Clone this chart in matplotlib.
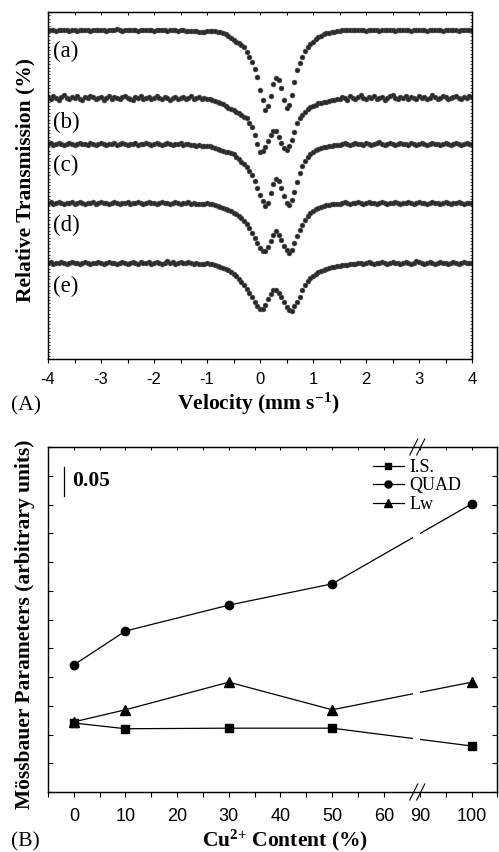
import numpy as np
import matplotlib
matplotlib.use('Agg')
import matplotlib.pyplot as plt
from matplotlib.ticker import MultipleLocator, FixedLocator, NullFormatter, FixedFormatter
from matplotlib.lines import Line2D
from matplotlib.patches import Rectangle
from matplotlib import transforms

plt.rcParams['axes.unicode_minus'] = False
plt.rcParams['font.family'] = ['Liberation Sans', 'DejaVu Sans']
plt.rcParams['mathtext.fontset'] = 'custom'
plt.rcParams['mathtext.rm'] = 'Liberation Serif'
plt.rcParams['mathtext.bf'] = 'Liberation Serif:bold'
plt.rcParams['mathtext.it'] = 'Liberation Serif:italic'

SERIF = ['Liberation Serif', 'DejaVu Serif']

# ---------------- Panel A data (velocity grid -4 .. 4 mm/s, step 0.05) ----------------
velocity_start = -4.0
velocity_step = 0.05

spec_a = [
    329, 329.5, 329, 328.5, 329, 329, 329.5, 329, 328.5, 329,
    329, 328.5, 329, 329.5, 329, 329, 328.5, 329, 329, 329.5,
    329, 329, 328.5, 329, 329, 329.5, 330, 329, 328.5, 329,
    329, 329, 329.5, 329, 328.5, 329, 329, 329.5, 329, 329,
    328.5, 329, 329, 329.5, 329, 328.5, 329, 329, 329, 328.5,
    329, 329, 328.5, 328.5, 328, 328, 328, 327.5, 327.5, 327,
    328.5, 328.5, 328, 328, 327.5, 327, 326, 325, 323, 321,
    319, 317.5, 316, 314, 312, 307, 302, 297, 290, 282,
    269, 259, 249, 253, 263, 275, 281, 279, 271, 259,
    251, 254, 264, 277, 289, 296, 302, 308, 312, 315,
    317.5, 320, 322, 323.5, 325, 326, 326.5, 327, 327.5, 328,
    328.5, 329, 329, 329, 329.5, 329, 329, 329.5, 329, 329,
    328.5, 329, 329, 329.5, 329, 328.5, 329, 329, 329.5, 329,
    329, 328.5, 329, 329, 329.5, 329, 329, 328.5, 329, 329,
    329.5, 329, 329, 328.5, 329, 329, 329.5, 329, 329, 328.5,
    329, 329, 329.5, 329, 329, 328.5, 329, 329, 329.5, 329,
    329,
]

spec_b = [
    262, 260, 263, 261, 259, 262, 264, 261, 260, 262,
    261, 263, 260, 259, 262, 261, 263, 262, 260, 261,
    262, 259, 261, 263, 260, 262, 261, 260, 262, 263,
    261, 260, 259, 262, 261, 263, 260, 261, 262, 260,
    261, 263, 261, 260, 262, 261, 259, 261, 262, 260,
    261, 262, 260, 261, 263, 260, 261, 262, 260, 261,
    260, 260, 259, 258, 257, 256, 255, 253, 251, 250,
    249, 247, 246, 244, 242, 241, 236, 232, 224, 215,
    207, 208, 212, 218, 224, 228, 228, 222, 216, 211,
    209, 213, 219, 227, 236, 241, 244, 247, 250, 252,
    253, 254.5, 256, 256.5, 257, 257.5, 258, 259, 259, 260,
    260, 262, 261, 259, 263, 261, 260, 262, 264, 261,
    260, 262, 261, 263, 260, 261, 262, 259, 261, 263,
    264, 261, 260, 262, 261, 263, 260, 262, 261, 260,
    263, 261, 262, 260, 261, 264, 262, 260, 261, 263,
    262, 260, 261, 262, 263, 261, 260, 262, 261, 263,
    262,
]

spec_c = [
    215, 216, 214, 215, 216, 215, 214, 215, 216, 215,
    214, 215, 216, 215, 215, 214, 216, 215, 214, 215,
    216, 215, 214, 215, 215, 216, 214, 215, 216, 215,
    214, 215, 215, 216, 214, 215, 215, 216, 215, 214,
    215, 216, 215, 214, 215, 216, 215, 214, 215, 215,
    216, 214, 215, 215, 214, 214, 213.5, 214, 213, 213,
    213, 213, 212, 211, 210, 209, 208, 207, 207, 206,
    205, 202, 200, 197, 195, 192, 188, 184, 178, 171,
    164, 158, 153, 156, 166, 175, 180, 178, 171, 163,
    156, 154, 159, 167, 177, 186, 193, 198, 202, 205,
    207, 209, 210, 211, 212, 212.5, 213, 213.5, 214, 214,
    214, 215, 216, 215, 214, 215, 216, 215, 215, 214,
    216, 215, 214, 215, 216, 217, 215, 214, 215, 216,
    215, 214, 215, 216, 215, 215, 214, 216, 215, 214,
    215, 216, 215, 214, 215, 216, 215, 215, 214, 215,
    216, 215, 214, 215, 216, 215, 214, 215, 216, 215,
    215,
]

spec_d = [
    156, 157, 155, 156, 157, 156, 155, 156, 156, 157,
    155, 156, 157, 156, 155, 156, 156, 157, 155, 156,
    157, 156, 156, 155, 156, 157, 156, 155, 156, 156,
    157, 155, 156, 156, 157, 156, 155, 156, 157, 156,
    156, 155, 156, 157, 156, 156, 155, 156, 157, 156,
    155, 156, 156, 157, 155, 156, 155, 155, 155, 155,
    156, 155, 154.5, 154, 153, 152, 151, 150, 149, 148,
    146, 145, 143, 141, 138, 135, 131, 126, 121, 116,
    111, 108, 108, 112, 118, 124, 128, 124, 119, 113,
    109, 106, 109, 116, 123, 129, 134, 139, 143, 146,
    148, 150, 151, 152, 153, 153.5, 154, 154.5, 155, 155,
    155, 156, 157, 156, 155, 156, 156, 157, 156, 155,
    156, 157, 156, 156, 155, 156, 157, 156, 155, 156,
    156, 157, 156, 155, 156, 156, 157, 156, 155, 156,
    157, 156, 156, 155, 156, 157, 156, 156, 155, 156,
    157, 156, 155, 156, 156, 157, 156, 155, 156, 156,
    156,
]

spec_e = [
    96, 97, 95, 96, 96, 97, 96, 95, 96, 97,
    96, 96, 95, 96, 97, 96, 95, 96, 96, 97,
    96, 95, 96, 97, 96, 96, 95, 96, 97, 96,
    95, 96, 97, 96, 95, 97, 96, 96, 97, 95,
    96, 97, 96, 95, 96, 98, 96, 97, 95, 96,
    97, 96, 96, 97, 96, 95, 96, 95, 95, 95,
    95.5, 95, 94.5, 94, 93, 92, 91, 90, 89, 87,
    85, 83, 80, 77, 74, 70, 66, 62, 57, 53,
    50, 50, 54, 60, 65, 69, 69, 66, 62, 57,
    52, 49, 48, 53, 57, 62, 69, 74, 78, 81,
    83, 85, 87, 88, 89, 90, 91, 91.5, 92, 92.5,
    93, 93.5, 94, 94, 94.5, 95, 95, 95.5, 96, 95,
    96, 97, 96, 95, 96, 96, 97, 96, 95, 96,
    97, 96, 96, 95, 96, 97, 96, 95, 96, 98,
    97, 96, 95, 96, 97, 96, 95, 96, 97, 96,
    96, 95, 96, 97, 96, 95, 96, 97, 96, 96,
    96,
]

spectra = [spec_a, spec_b, spec_c, spec_d, spec_e]
spectrum_labels = ['(a)', '(b)', '(c)', '(d)', '(e)']
spectrum_label_y = [308, 237, 194, 134, 73]

# ---------------- Panel B data ----------------
cu_content = [0, 10, 30, 50, 100]
isomer_shift = [0.120, 0.110, 0.111, 0.111, 0.080]
quad_split = [0.221, 0.280, 0.325, 0.362, 0.501]
line_width = [0.122, 0.143, 0.191, 0.143, 0.191]
series_names = ['I.S.', 'QUAD', 'Lw']
xticks_b = [0, 10, 20, 30, 40, 50, 60, 90, 100]
xminor_b = [-5, 5, 15, 25, 35, 45, 55, 95, 105]
xtop_b = [-5, 0, 5, 10, 15, 20, 25, 30, 35, 40, 45, 50, 55, 60, 90, 95, 100, 105]

W, H = 499, 852
fig = plt.figure(figsize=(W / 100, H / 100), dpi=100)


def box(l, t, r, b):
    return [l / W, 1 - b / H, (r - l) / W, (b - t) / H]


LABEL_FS = 15.5

# ================= Panel A =================
axA = fig.add_axes(box(48, 12, 472, 359))
for spec in spectra:
    v = velocity_start + velocity_step * np.arange(len(spec))
    axA.plot(v, spec, ls='none', marker='o', ms=3.5, mfc='#262626',
             mec='#4d4d4d', mew=0.4)
for lab, yy in zip(spectrum_labels, spectrum_label_y):
    axA.text(-3.9, yy, lab, family=SERIF, fontsize=16.5, va='center', ha='left')

axA.set_xlim(-4, 4)
axA.set_ylim(0, 347)
axA.xaxis.set_major_locator(MultipleLocator(1))
axA.xaxis.set_minor_locator(MultipleLocator(0.5))
axA.tick_params(axis='x', which='major', direction='out', length=3.2, width=0.8,
                labelsize=12, pad=6.5, top=False)
axA.tick_params(axis='x', which='minor', direction='out', length=3.2, width=0.8, top=False)
axA.yaxis.set_major_locator(MultipleLocator(3.47))
axA.yaxis.set_major_formatter(NullFormatter())
axA.tick_params(axis='y', which='major', direction='in', left=True, right=True,
                length=1.3, width=0.5)
for s in axA.spines.values():
    s.set_linewidth(0.9)

axA_top = axA.twiny()
axA_top.set_xlim(-4, 4)
axA_top.xaxis.set_major_locator(MultipleLocator(0.5))
axA_top.xaxis.set_major_formatter(NullFormatter())
axA_top.tick_params(axis='x', direction='in', length=2, width=0.7, labeltop=False)
for s in axA_top.spines.values():
    s.set_linewidth(0.9)

fig.text(25 / W, 1 - 180 / H, 'Relative Transmission (%)', rotation=90, ha='center',
         va='center', fontsize=LABEL_FS, fontweight='bold', family=SERIF)
fig.text(258 / W, 1 - 410 / H, 'Velocity (mm s$^{\\mathbf{-1}}$)', ha='center',
         va='baseline', fontsize=LABEL_FS, fontweight='bold', family=SERIF)
fig.text(11 / W, 1 - 410 / H, '(A)', ha='left', va='baseline', fontsize=LABEL_FS,
         family=SERIF)


# ================= Panel B =================
def fwd(x):
    x = np.asarray(x, dtype=float)
    return np.where(x <= 66, x, np.where(x >= 89, x - 23, 66.0))


def inv(p):
    p = np.asarray(p, dtype=float)
    return np.where(p <= 66, p, p + 23)


axB = fig.add_axes(box(48, 447, 497.5, 792))
axB.set_xscale('function', functions=(fwd, inv))
axB.set_xlim(-5, 105)
axB.set_ylim(0, 0.6)

l_is, = axB.plot(cu_content, isomer_shift, color='k', lw=0.9, marker='s', ms=5.5)
l_q, = axB.plot(cu_content, quad_split, color='k', lw=0.9, marker='o', ms=6)
l_lw, = axB.plot(cu_content, line_width, color='k', lw=0.9, marker='^', ms=6.5)

axB.xaxis.set_major_locator(FixedLocator(xticks_b))
axB.xaxis.set_minor_locator(FixedLocator(xminor_b))
axB.xaxis.set_major_formatter(FixedFormatter([str(t) for t in xticks_b]))
axB.tick_params(axis='x', which='major', direction='out', length=3.5, width=0.8,
                labelsize=13, pad=8, top=False)
axB.tick_params(axis='x', which='minor', direction='out', length=3.5, width=0.8, top=False)
axB.yaxis.set_major_locator(MultipleLocator(0.05))
axB.yaxis.set_major_formatter(NullFormatter())
axB.tick_params(axis='y', direction='in', left=True, right=True, length=3.5, width=0.8)
for s in axB.spines.values():
    s.set_linewidth(0.9)

axB_top = axB.twiny()
axB_top.set_xscale('function', functions=(fwd, inv))
axB_top.set_xlim(-5, 105)
axB_top.xaxis.set_major_locator(FixedLocator(xtop_b))
axB_top.xaxis.set_major_formatter(NullFormatter())
axB_top.xaxis.set_minor_locator(FixedLocator([]))
axB_top.tick_params(axis='x', direction='in', length=2.2, width=0.7, labeltop=False)
for s in axB_top.spines.values():
    s.set_linewidth(0.9)

# gap in the data lines at the axis break
bx0 = (413.5 - 48) / 449.5
bw = 6.5 / 449.5
axB.add_patch(Rectangle((bx0, 0), bw, 1, transform=axB.transAxes, fc='white',
                        ec='none', zorder=2.3))

# break marks "//" on top and bottom spines
dx, dy = 4 / 449.5, 8 / 345
for yspine in (0, 1):
    for xc in (bx0 + 0.5 * bw - 3 / 449.5, bx0 + 0.5 * bw + 4 / 449.5):
        axB.add_line(Line2D([xc - dx, xc + dx], [yspine - dy, yspine + dy],
                            transform=axB.transAxes, color='k', lw=0.8,
                            clip_on=False, zorder=5))

# scale bar 0.05
blend = transforms.blended_transform_factory(axB.transAxes, axB.transData)
axB.plot([(64 - 48) / 449.5] * 2, [0.515, 0.565], color='k', lw=0.9, transform=blend)
axB.text((72 - 48) / 449.5, 0.541, '0.05', transform=blend, fontsize=15.5,
         fontweight='bold', family=SERIF, va='center', ha='left')

leg = axB.legend([l_is, l_q, l_lw], series_names, loc='upper left',
                 bbox_to_anchor=((373 - 48) / 449.5, (792 - 459) / 345),
                 frameon=False, borderpad=0, borderaxespad=0, handlelength=1.7,
                 handletextpad=0.3, labelspacing=0.08, markerscale=0.85,
                 prop={'family': SERIF, 'size': 13})

fig.text(25 / W, 1 - 624 / H, 'Mössbauer Parameters (arbitrary units)', rotation=90,
         ha='center', va='center', fontsize=LABEL_FS, fontweight='bold', family=SERIF)
fig.text(285 / W, 1 - 846 / H, 'Cu$^{\\mathbf{2{+}}}$ Content (%)', ha='center',
         va='baseline', fontsize=LABEL_FS, fontweight='bold', family=SERIF)
fig.text(11 / W, 1 - 846 / H, '(B)', ha='left', va='baseline', fontsize=LABEL_FS,
         family=SERIF)

fig.savefig('out.png', dpi=100)
